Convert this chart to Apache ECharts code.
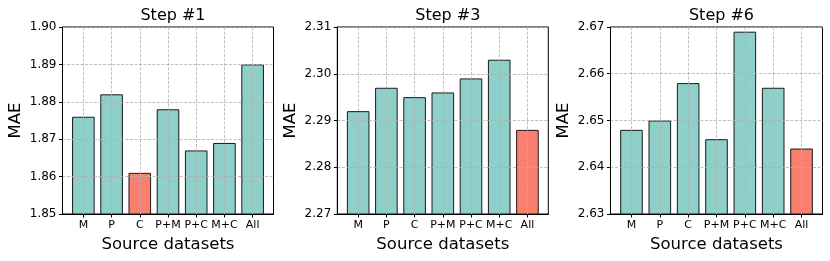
<!DOCTYPE html>
<html>
<head>
<meta charset="utf-8">
<script src="https://cdn.jsdelivr.net/npm/echarts@6/dist/echarts.min.js"></script>
<style>html,body{margin:0;padding:0;background:#fff}#c{width:830px;height:261px}</style>
</head>
<body>
<div id="c"></div>
<script>
const categories = ['M', 'P', 'C', 'P+M', 'P+C', 'M+C', 'All'];
const titles = ['Step #1', 'Step #3', 'Step #6'];
const step1 = [1.876, 1.882, 1.861, 1.878, 1.867, 1.869, 1.890];
const step3 = [2.292, 2.297, 2.295, 2.296, 2.299, 2.303, 2.288];
const step6 = [2.648, 2.650, 2.658, 2.646, 2.669, 2.657, 2.644];
const yMins = [1.85, 2.27, 2.63];
const yMaxs = [1.90, 2.31, 2.67];
const yStep = 0.01;

const seriesValues = [step1, step3, step6];
const panels = [
  {left: 62.5, width: 211},
  {left: 337.3, width: 211},
  {left: 610.5, width: 212}
];
const TEAL = '#8ecfc9', SALMON = '#fa7f6f';
const FONT = 'DejaVu Sans';
const gridLine = {show: true, lineStyle: {color: '#b0b0b0', width: 0.8, type: [3, 1.5]}};
const tickIdx = categories.map((_, i) => i);

const option = {
  animation: false,
  textStyle: {fontFamily: FONT},
  title: [], grid: [], xAxis: [], yAxis: [], series: []
};

panels.forEach((p, k) => {
  const vals = seriesValues[k];
  const minV = Math.min(...vals);
  option.title.push({
    text: titles[k], left: p.left + p.width / 2, top: 3, textAlign: 'center',
    textStyle: {fontFamily: FONT, fontSize: 16, fontWeight: 'normal', color: '#000'}
  });
  option.grid.push({left: p.left, top: 27, width: p.width, height: 187,
    show: true, borderColor: '#000', borderWidth: 1, backgroundColor: 'transparent'});
  option.xAxis.push({
    type: 'value', gridIndex: k, min: -0.74, max: 6.74, z: 3,
    name: 'Source datasets', nameLocation: 'middle', nameGap: 21,
    nameTextStyle: {fontFamily: FONT, fontSize: 16.5, color: '#000'},
    axisLine: {show: true, onZero: false, lineStyle: {color: '#000', width: 1}},
    axisTick: {show: true, inside: false, length: 3.5, customValues: tickIdx, lineStyle: {color: '#000'}},
    axisLabel: {customValues: tickIdx, margin: 6, fontFamily: FONT, fontSize: 11, color: '#000',
      formatter: v => categories[Math.round(v)] || ''},
    splitLine: gridLine
  });
  option.yAxis.push({
    type: 'value', gridIndex: k, min: yMins[k], max: yMaxs[k], interval: yStep, z: 3,
    name: 'MAE', nameLocation: 'middle', nameGap: 38,
    nameTextStyle: {fontFamily: FONT, fontSize: 16.5, color: '#000'},
    axisLine: {show: true, onZero: false, lineStyle: {color: '#000', width: 1}},
    axisTick: {show: true, inside: false, length: 3.5, lineStyle: {color: '#000'}},
    axisLabel: {margin: 6, fontFamily: FONT, fontSize: 12, color: '#000',
      formatter: v => v.toFixed(2)},
    splitLine: gridLine
  });
  option.series.push({
    type: 'bar', xAxisIndex: k, yAxisIndex: k, barWidth: 22.6,
    data: vals.map((v, i) => ({
      value: [i, v],
      itemStyle: {color: v === minV ? SALMON : TEAL, borderColor: '#1a1a1a', borderWidth: 1}
    }))
  });
});

const chart = echarts.init(document.getElementById('c'), null, {renderer: 'canvas'});
chart.setOption(option);
</script>
</body>
</html>
